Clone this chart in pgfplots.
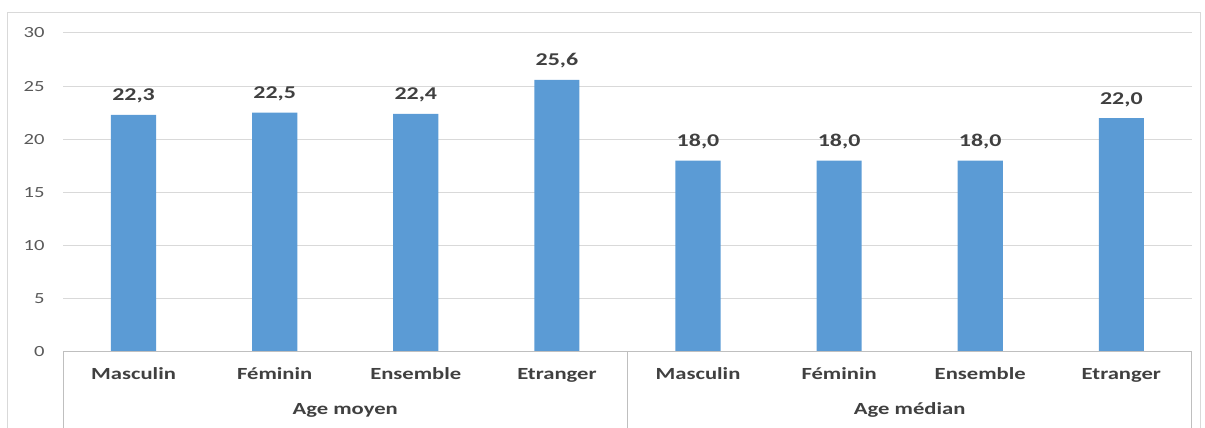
\documentclass[border=0pt]{standalone}
\usepackage{pgfplots}
\pgfplotsset{compat=1.18}
\usepackage{fontspec}
\setmainfont{Carlito}[FakeStretch=1.33]
\definecolor{barblue}{HTML}{5B9BD5}
\definecolor{gridgray}{HTML}{D9D9D9}
\definecolor{axgray}{HTML}{BFBFBF}
\definecolor{txtgray}{HTML}{595959}
\definecolor{lblgray}{HTML}{404040}
\begin{document}
\begin{tikzpicture}
\useasboundingbox (0,0) rectangle (1205pt,428pt);
% chart area border
\draw[gridgray] (7pt,0pt) -- (7pt,416pt) -- (1200pt,416pt) -- (1200pt,0pt);
\begin{axis}[
    at={(63pt,76pt)}, anchor=south west,
    scale only axis,
    width=1129pt, height=319pt,
    ymin=0, ymax=30,
    xmin=-0.5, xmax=7.5,
    ytick={0,5,...,30},
    xtick={0,...,7},
    xticklabels={Masculin,Féminin,Ensemble,Etranger,Masculin,Féminin,Ensemble,Etranger},
    xticklabel style={anchor=base, yshift=-28pt, font=\fontsize{17}{19}\selectfont\bfseries, text=lblgray},
    yticklabel style={font=\fontsize{15.5}{17}\selectfont, text=txtgray, xshift=-15pt},
    /pgf/number format/assume math mode=true,
    major tick length=0pt,
    axis line style={draw=none},
    ymajorgrids, grid style={gridgray, line width=1pt},
    clip=false,
    ybar, bar width=0.32,
    nodes near coords,
    nodes near coords style={anchor=base, yshift=14pt, font=\fontsize{18}{20}\selectfont\bfseries, text=lblgray,
        /pgf/number format/.cd, fixed, fixed zerofill, precision=1, use comma},
]
\addplot[fill=barblue, draw=none] coordinates {
    (0,22.3) (1,22.5) (2,22.4) (3,25.6)
    (4,18.0) (5,18.0) (6,18.0) (7,22.0)
};
\draw[axgray, line width=1pt] (axis cs:-0.5,0) -- (axis cs:7.5,0);
\draw[axgray, line width=1pt] (axis cs:-0.5,0) -- ([yshift=-76pt]axis cs:-0.5,0);
\draw[axgray, line width=1pt] (axis cs:3.5,0) -- ([yshift=-76pt]axis cs:3.5,0);
\draw[axgray, line width=1pt] (axis cs:7.5,0) -- ([yshift=-76pt]axis cs:7.5,0);
\node[anchor=base, font=\fontsize{17}{19}\selectfont\bfseries, text=lblgray] at ([yshift=-63pt]axis cs:1.5,0) {Age moyen};
\node[anchor=base, font=\fontsize{17}{19}\selectfont\bfseries, text=lblgray] at ([yshift=-63pt]axis cs:5.5,0) {Age médian};
\end{axis}
\end{tikzpicture}
\end{document}
